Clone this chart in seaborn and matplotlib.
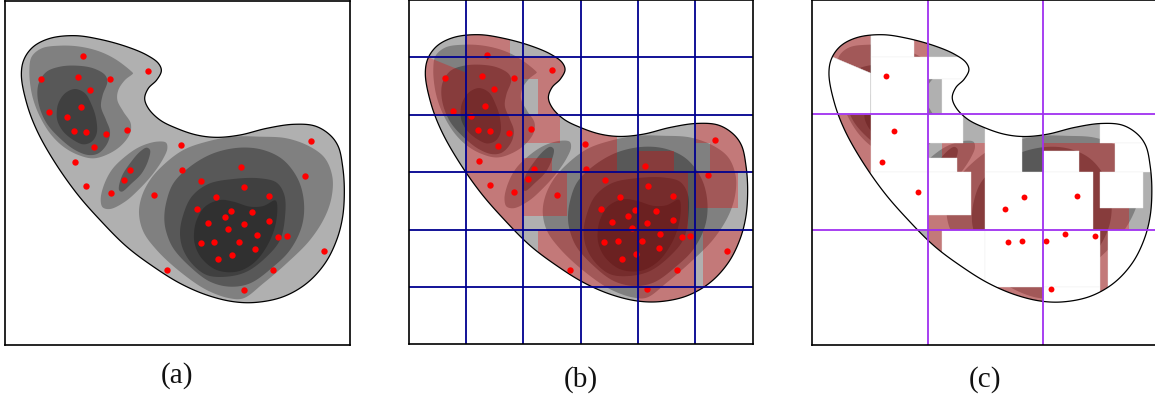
import numpy as np
import pandas as pd
import matplotlib
matplotlib.use("Agg")
import matplotlib.pyplot as plt
from matplotlib.patches import Polygon
import seaborn as sns

sns.set_style("white")
plt.rcParams['font.family'] = ['Liberation Serif', 'DejaVu Serif']

L0 = [(64,225),(72,178),(100,140),(150,115),(225,107),(300,118),(380,140),(440,165),(475,190),(484,212),(470,240),(445,265),(434,295),(445,325),(480,360),(530,385),(590,405),(650,412),(720,405),(800,385),(880,373),(945,378),(990,405),(1015,440),(1028,500),(1033,570),(1028,650),(1010,720),(975,790),(920,850),(850,890),(770,907),(700,905),(620,885),(540,850),(460,800),(380,740),(300,660),(230,580),(160,480),(110,390),(80,310)]
L1_LEFT = [(88,210),(95,170),(125,145),(180,137),(240,140),(300,155),(350,180),(397,217),(399,220),(375,240),(355,270),(352,300),(370,335),(392,370),(390,400),(365,435),(325,462),(280,475),(235,465),(190,440),(150,400),(115,340),(95,280)]
L1_MID = [(302,600),(310,560),(335,510),(375,470),(420,440),(470,425),(498,428),(502,445),(490,475),(460,520),(420,565),(375,605),(330,627),(308,622)]
L1_RIGHT = [(417,640),(425,590),(450,540),(490,495),(550,450),(620,425),(700,410),(780,410),(860,415),(930,440),(975,475),(997,530),(995,590),(975,650),(930,720),(860,790),(790,850),(730,895),(690,895),(620,870),(540,815),(470,750),(430,695)]
L2_LEFT = [(112,275),(118,245),(140,215),(180,200),(230,197),(280,205),(315,225),(322,245),(308,285),(303,320),(318,360),(330,395),(322,430),(295,460),(265,465),(225,450),(180,415),(140,370),(118,320)]
L2_MID = [(357,570),(365,530),(390,490),(420,455),(440,443),(450,450),(445,480),(425,520),(395,550),(365,575)]
L2_RIGHT = [(493,660),(498,610),(520,550),(570,500),(640,460),(720,443),(790,450),(850,480),(895,540),(912,610),(905,680),(870,750),(820,800),(750,850),(690,860),(630,845),(570,800),(520,745),(500,700)]
L3_LEFT = [(170,340),(175,310),(195,280),(225,267),(255,280),(275,315),(288,355),(290,400),(275,425),(250,433),(220,420),(190,395),(173,365)]
L3_RIGHT = [(540,700),(548,650),(575,590),(625,552),(700,537),(780,535),(830,548),(853,585),(855,650),(840,720),(800,770),(740,815),(680,830),(620,825),(575,790),(548,745)]
L4_RIGHT = [(582,700),(590,660),(615,620),(660,600),(700,605),(750,620),(790,618),(824,601),(829,604),(832,625),(825,680),(800,740),(760,790),(710,815),(650,810),(605,775),(585,735)]

LEVELS = [(L0, "#b0b0b0"), (L1_LEFT, "#808080"), (L1_MID, "#808080"), (L1_RIGHT, "#808080"),
          (L2_LEFT, "#585858"), (L2_MID, "#585858"), (L2_RIGHT, "#585858"),
          (L3_LEFT, "#404040"), (L3_RIGHT, "#404040"), (L4_RIGHT, "#303030")]

PTS_X = [250,124,234,331,445,270,244,147,202,221,259,317,382,281,224,258,332,373,391,543,546,461,603,724,733,649,808,592,694,674,756,624,731,808,684,771,835,861,602,643,716,765,697,654,500,820,731,934,915,971]
PTS_Y = [167,236,231,236,213,270,322,337,352,393,396,401,391,442,487,559,579,540,511,434,511,586,543,501,562,592,589,628,632,650,635,669,671,662,687,705,712,709,728,725,725,746,764,778,811,811,870,422,529,754]
PTS_C_X = [234,259,224,332,649,592,808,602,643,716,771,861,731]
PTS_C_Y = [231,396,487,579,592,628,589,728,725,725,705,709,870]

GRID_B_X = [187,359,532,704,876]
GRID_B_Y = [175,347,519,692,864]
GRID_C_X = [360,705]
GRID_C_Y = [346,691]

RED_B = [(199,100,330,172),(199,172,371,344),(371,172,544,237),(414,237,544,344),
         (199,344,371,516),(371,344,480,430),(371,474,458,516),(544,344,653,516),
         (716,452,825,516),(888,344,1060,430),(933,430,1060,516),
         (199,516,371,689),(371,516,501,646),(544,516,716,689),(716,516,867,689),(888,516,1017,624),
         (414,689,544,861),(544,689,716,861),(716,689,888,861),(910,689,1060,861),
         (716,861,888,920),(888,861,1060,920)]
WEDGE_B = [(26,148),(199,218),(199,344),(26,344)]
RED_C = [(326,100,368,172),(26,344,197,516),(412,430,541,516),(498,516,541,689),(368,646,498,689),
         (368,689,412,861),(713,430,929,516),(864,516,886,689),(886,624,972,689),(886,689,908,880),(541,861,713,920)]
WEDGE_C = [(40,100),(197,100),(197,220),(40,160)]
WHITE_C = [(197,100,326,172),(197,172,368,344),(368,172,500,237),(412,237,500,344),
           (197,344,368,516),(368,344,475,430),(368,474,455,516),(541,344,650,516),
           (713,452,821,516),(886,344,1050,430),(929,430,1050,516),
           (197,516,368,689),(368,516,498,646),(541,516,713,689),(713,516,864,689),(886,516,1015,624),
           (412,689,541,861),(541,689,713,861),(713,689,886,861),(908,689,1050,861),(713,861,886,920),(908,861,1050,920)]
WHITE_WEDGE_C = [(26,148),(197,220),(197,344),(26,344)]

LABELS = ["(a)", "(b)", "(c)"]
W, H = 1155, 394
RED = (240/255, 0, 0, 0.31)

def smooth(pts, n=14):
    # centripetal Catmull-Rom through the read outline points
    p = np.array(pts, float)
    m = len(p)
    out = []
    for i in range(m):
        P0, P1, P2, P3 = p[i-1], p[i], p[(i+1) % m], p[(i+2) % m]
        t0 = 0.0
        t1 = t0 + np.linalg.norm(P1-P0)**0.5
        t2 = t1 + np.linalg.norm(P2-P1)**0.5
        t3 = t2 + np.linalg.norm(P3-P2)**0.5
        t = np.linspace(t1, t2, n, endpoint=False)[:, None]
        A1 = (t1-t)/(t1-t0)*P0 + (t-t0)/(t1-t0)*P1
        A2 = (t2-t)/(t2-t1)*P1 + (t-t1)/(t2-t1)*P2
        A3 = (t3-t)/(t3-t2)*P2 + (t-t2)/(t3-t2)*P3
        B1 = (t2-t)/(t2-t0)*A1 + (t-t0)/(t2-t0)*A2
        B2 = (t3-t)/(t3-t1)*A2 + (t-t1)/(t3-t1)*A3
        out.append((t2-t)/(t2-t1)*B1 + (t-t1)/(t2-t1)*B2)
    return np.vstack(out)

def box(r, dx, dy):
    x0, y0, x1, y1 = r
    return [(x0-dx, y0-dy), (x1-dx, y0-dy), (x1-dx, y1-dy), (x0-dx, y1-dy)]

def shift(poly, dx, dy):
    return [(x-dx, y-dy) for x, y in poly]

def make_ax(left, top, right, bottom):
    ax = fig.add_axes([left/W, 1-bottom/H, (right-left)/W, (bottom-top)/H])
    ax.set_xlim(14, 1050)
    ax.set_ylim(1035, 3)
    for s in ax.spines.values():
        s.set_color("black")
        s.set_linewidth(1.2)
        s.set_zorder(6)
    return ax

def finish(ax, label):
    ax.set_xlabel(label, fontsize=21, labelpad=12, color="#111111")
    ax.set_ylabel("")

def draw_levels(ax):
    for pts, col in LEVELS:
        ax.add_patch(Polygon(smooth(pts), closed=True, fc=col, ec="none", zorder=1))

def overlay(ax, polys, col, z, edge="none"):
    clip = Polygon(smooth(L0), closed=True, transform=ax.transData)
    for poly in polys:
        pa = Polygon(poly, closed=True, fc=col, ec=edge, lw=0.3, zorder=z)
        ax.add_patch(pa)
        pa.set_clip_path(clip)

def outline(ax):
    ax.add_patch(Polygon(smooth(L0), closed=True, fc="none", ec="black", lw=0.9, zorder=1.8))

def points(ax, xs, ys, s=21):
    df = pd.DataFrame({"x": xs, "y": ys})
    sns.scatterplot(data=df, x="x", y="y", ax=ax, color="#ff0000", s=s, linewidth=0, zorder=2, legend=False)

def set_grid(ax, xs, ys, col):
    ax.set_xticks(xs); ax.set_yticks(ys)
    ax.set_xticklabels([]); ax.set_yticklabels([])
    ax.tick_params(length=0)
    ax.set_axisbelow(False)
    ax.grid(True, color=col, lw=1.3)

fig = plt.figure(figsize=(W/100, H/100), dpi=100)

ax_a = make_ax(4.7, 1, 350, 345)
draw_levels(ax_a); outline(ax_a)
points(ax_a, PTS_X, PTS_Y)
ax_a.set_xticks([]); ax_a.set_yticks([])
finish(ax_a, LABELS[0])

ax_b = make_ax(408.7, 0, 753.3, 344.3)
draw_levels(ax_b)
overlay(ax_b, [box(r, 12, -3) for r in RED_B] + [shift(WEDGE_B, 12, -3)], RED, 1.2)
outline(ax_b)
points(ax_b, PTS_X, PTS_Y)
set_grid(ax_b, GRID_B_X, GRID_B_Y, "#00008f")
finish(ax_b, LABELS[1])

ax_c = make_ax(812.3, 0, 1157.5, 344.5)
draw_levels(ax_c)
overlay(ax_c, [box(r, 8, -2) for r in RED_C] + [shift(WEDGE_C, 8, -2)], RED, 1.2)
overlay(ax_c, [box(r, 8, -2) for r in WHITE_C] + [shift(WHITE_WEDGE_C, 8, -2)], "white", 1.4, edge="#f0f0f0")
outline(ax_c)
points(ax_c, PTS_C_X, PTS_C_Y, s=18)
set_grid(ax_c, GRID_C_X, GRID_C_Y, "#a030f0")
finish(ax_c, LABELS[2])

fig.savefig("out.png", dpi=100)
